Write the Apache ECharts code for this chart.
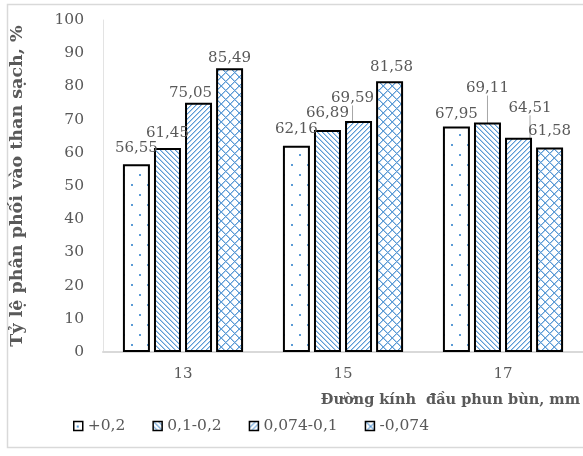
<!DOCTYPE html>
<html>
<head>
<meta charset="utf-8">
<script src="https://cdn.jsdelivr.net/npm/echarts@6/dist/echarts.min.js"></script>
<style>
  html, body { margin: 0; padding: 0; background: #fff; }
  #chart { width: 583px; height: 456px; }
</style>
</head>
<body>
<div id="chart"></div>
<script>
// Nozzle diameters (mm) on the category axis
const categories = ['13', '15', '17'];
// Size fractions (mm)
const seriesNames = ['+0,2', '0,1-0,2', '0,074-0,1', '-0,074'];
// Share reporting to clean coal, %
const fracPlus02 = [56.55, 62.16, 67.95];
const frac01to02 = [61.45, 66.89, 69.11];
const frac0074to01 = [75.05, 69.59, 64.51];
const fracMinus0074 = [85.49, 81.58, 61.58];
const yTicks = { min: 0, max: 100, step: 10 };

const seriesValues = [fracPlus02, frac01to02, frac0074to01, fracMinus0074];

// Hand-placed label nudges [dx, dy] and which labels carry a leader line
const labelNudge = [
  [[0, -3.5], [0, -4.5], [0, 0.5]],
  [[0, -2], [0, -4.5], [0, -22]],
  [[-8, 3], [-6, -10.5], [11.5, -17.5]],
  [[0, 2.5], [2, -2], [0, -4]]
];
const leader = [
  [false, false, false],
  [false, false, true],
  [false, true, true],
  [false, false, false]
];

const SERIF = "'DejaVu Serif', 'Liberation Serif', serif";
const TEXT = '#595959';

// Pixel-exact pattern tiles: shade(x, y) returns 0 (white), 1 (light) or 2 (full blue)
const INK = [[255, 255, 255], [178, 207, 236], [91, 155, 213]];
function tile(w, h, shade) {
  const c = document.createElement('canvas');
  c.width = w; c.height = h;
  const g = c.getContext('2d');
  const img = g.createImageData(w, h);
  for (let y = 0; y < h; y++) {
    for (let x = 0; x < w; x++) {
      const col = INK[shade(x, y)];
      const o = (y * w + x) * 4;
      img.data[o] = col[0]; img.data[o + 1] = col[1]; img.data[o + 2] = col[2]; img.data[o + 3] = 255;
    }
  }
  g.putImageData(img, 0, 0);
  return { image: c, repeat: 'repeat' };
}
const mod = (a, n) => ((a % n) + n) % n;
const back = (x, y, s) => { const m = mod(x - y, s); return m === 0 ? 2 : (m === 1 ? 1 : 0); };
const fwd = (x, y, s) => { const m = mod(x + y, s); return m === 0 ? 2 : (m === 1 ? 1 : 0); };

const fills = [
  // sparse staggered dots
  tile(16, 20, (x, y) => ((x === 3 || x === 4) && (y === 4 || y === 5)) || ((x === 11 || x === 12) && (y === 14 || y === 15)) ? 2 : 0),
  // "\" hatch
  tile(5, 5, (x, y) => back(x, y, 5)),
  // "/" hatch
  tile(5, 5, (x, y) => fwd(x, y, 5)),
  // diamond lattice
  tile(9, 9, (x, y) => Math.max(back(x, y, 9), fwd(x, y, 9)))
];

const fmt = v => v.toFixed(2).replace('.', ',');

const series = seriesNames.map((name, si) => ({
  name,
  type: 'bar',
  barWidth: 27,
  barGap: '15%',
  itemStyle: { color: fills[si], borderColor: '#000', borderWidth: 2 },
  label: {
    show: true,
    position: 'top',
    distance: 5,
    fontFamily: SERIF,
    fontSize: 15,
    color: TEXT,
    formatter: p => fmt(p.value)
  },
  labelLine: { show: false, lineStyle: { color: '#a6a6a6', width: 1 } },
  labelLayout: p => ({ dx: labelNudge[si][p.dataIndex][0], dy: labelNudge[si][p.dataIndex][1] }),
  data: seriesValues[si].map((v, i) => ({
    value: v,
    labelLine: { show: leader[si][i], lineStyle: { color: '#a6a6a6', width: 1 } }
  }))
}));

const chart = echarts.init(document.getElementById('chart'), null, { renderer: 'canvas' });
chart.setOption({
  animation: false,
  backgroundColor: '#fff',
  title: {
    text: 'Đường kính  đầu phun bùn, mm',
    right: 3,
    top: 393,
    padding: 0,
    textStyle: { fontFamily: SERIF, fontSize: 14.5, fontWeight: 'bold', color: TEXT }
  },
  legend: {
    data: seriesNames,
    left: 73,
    top: 418,
    padding: 0,
    icon: 'rect',
    itemWidth: 9,
    itemHeight: 9,
    itemGap: 27,
    itemStyle: { borderColor: '#000', borderWidth: 1.5 },
    textStyle: { fontFamily: SERIF, fontSize: 15.5, color: TEXT }
  },
  grid: { left: 94, top: 20, width: 492, height: 332, containLabel: false },
  xAxis: {
    type: 'category',
    data: categories,
    axisLine: { lineStyle: { color: '#d9d9d9', width: 2 } },
    axisTick: { show: false },
    axisLabel: { margin: 15, fontFamily: SERIF, fontSize: 15, color: TEXT }
  },
  yAxis: {
    type: 'value',
    min: yTicks.min,
    max: yTicks.max,
    interval: yTicks.step,
    name: 'Tỷ lệ phân phối vào than sạch, %',
    nameLocation: 'middle',
    nameGap: 77,
    nameTextStyle: { fontFamily: SERIF, fontSize: 17.5, fontWeight: 'bold', color: TEXT },
    axisLine: { show: true, lineStyle: { color: '#e3e3e3', width: 1 } },
    axisTick: { show: false },
    splitLine: { show: false },
    axisLabel: { margin: 19, fontFamily: SERIF, fontSize: 15.5, color: TEXT }
  },
  graphic: [{
    type: 'rect',
    silent: true,
    z: -1,
    shape: { x: 7.5, y: 4.5, width: 620, height: 443 },
    style: { fill: null, stroke: '#d9d9d9', lineWidth: 1.5 }
  }],
  series
});
</script>
</body>
</html>
